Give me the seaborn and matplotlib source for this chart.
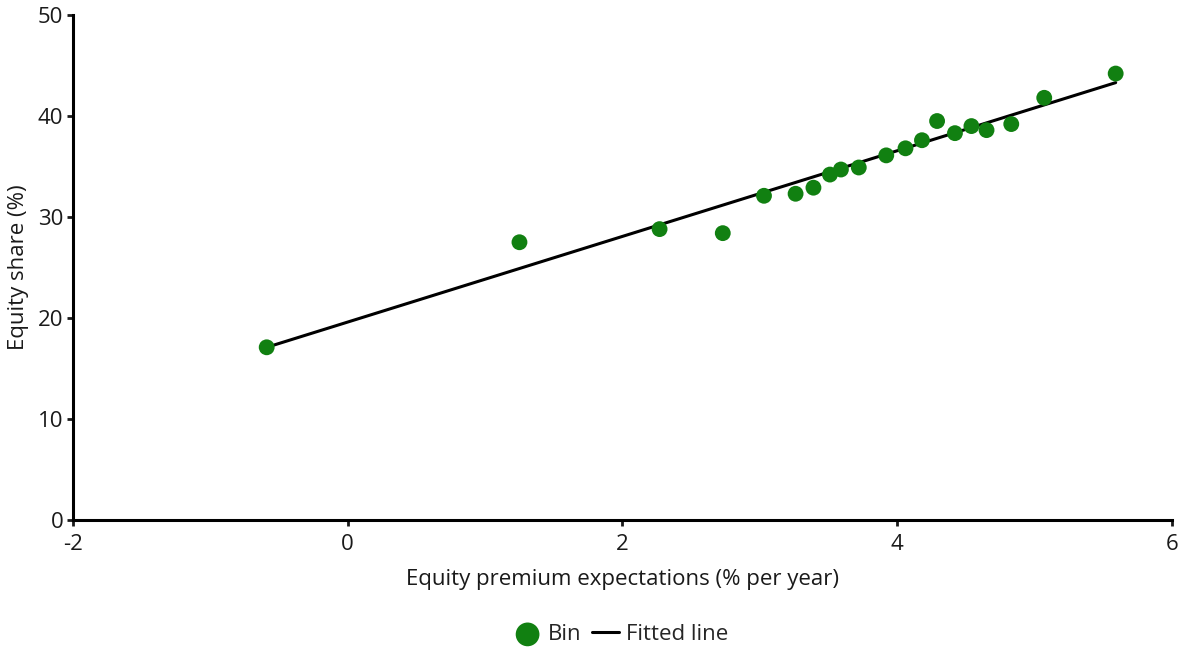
import numpy as np
import pandas as pd
import matplotlib
matplotlib.use('Agg')
import matplotlib.pyplot as plt
import seaborn as sns

# binned scatter values
premium = [-0.59, 1.25, 2.27, 2.73, 3.03, 3.26, 3.39, 3.51, 3.59, 3.72,
           3.92, 4.06, 4.18, 4.29, 4.42, 4.54, 4.65, 4.83, 5.07, 5.59]
equity_share = [17.1, 27.5, 28.8, 28.4, 32.1, 32.3, 32.9, 34.2, 34.7, 34.9,
                36.1, 36.8, 37.6, 39.5, 38.3, 39.0, 38.6, 39.2, 41.8, 44.2]

# fitted line (intercept, slope)
fit_intercept = 19.6
fit_slope = 4.24

df = pd.DataFrame({'premium': premium, 'share': equity_share})
fit_x = np.array([min(premium), max(premium)])
fit_df = pd.DataFrame({'premium': fit_x, 'share': fit_intercept + fit_slope * fit_x})

sns.set_style('white')
plt.rcParams['font.family'] = ['Open Sans', 'DejaVu Sans']
plt.rcParams['axes.unicode_minus'] = False

fig = plt.figure(figsize=(11.83, 6.51), dpi=100)
ax = fig.add_axes([0.0617, 0.2012, 0.929, 0.7758])

sns.lineplot(data=fit_df, x='premium', y='share', color='black', linewidth=2.2,
             ax=ax, label='Fitted line', zorder=2)
sns.scatterplot(data=df, x='premium', y='share', color='#118011', s=130,
                edgecolor='none', ax=ax, label='Bin', zorder=3)

ax.set_xlim(-2, 6)
ax.set_ylim(0, 50)
ax.set_xticks([-2, 0, 2, 4, 6])
ax.set_yticks([0, 10, 20, 30, 40, 50])
ax.set_xlabel('Equity premium expectations (% per year)', fontsize=16, color='#1a1a1a', labelpad=10)
ax.set_ylabel('Equity share (%)', fontsize=16, color='#1a1a1a', labelpad=6)
ax.tick_params(axis='both', labelsize=16, colors='#1a1a1a', length=4, width=2,
               direction='out', pad=3, bottom=True, left=True)
ax.tick_params(axis='x', pad=6)

for side in ['top', 'right']:
    ax.spines[side].set_visible(False)
for side in ['left', 'bottom']:
    ax.spines[side].set_color('black')
    ax.spines[side].set_linewidth(2.2)

handles, labels = ax.get_legend_handles_labels()
ax.get_legend().remove()
order = [labels.index('Bin'), labels.index('Fitted line')]
fig.legend([handles[i] for i in order], [labels[i] for i in order],
           loc='center', bbox_to_anchor=(0.525, 0.025), ncol=2, frameon=False,
           fontsize=16, handlelength=1.2, handletextpad=0.3, columnspacing=0.5,
           markerscale=1.5, borderpad=0)

fig.savefig('out.png', dpi=100)
